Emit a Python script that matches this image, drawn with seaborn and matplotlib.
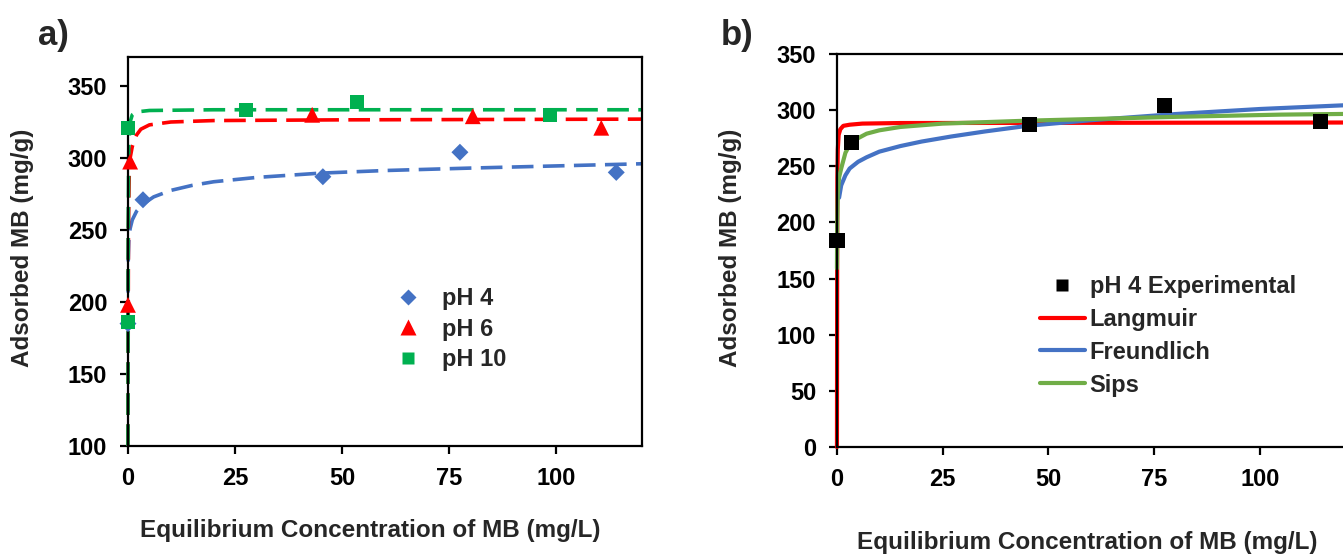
import matplotlib
matplotlib.use("Agg")
import matplotlib.pyplot as plt
import seaborn as sns
from matplotlib.lines import Line2D

# ---- data ----
# panel a: experimental points
ph4_x = [0, 3.5, 45.5, 77.5, 114]
ph4_y = [185, 271, 287, 304, 290]
ph6_x = [0, 0.5, 43, 80.5, 110.5]
ph6_y = [198, 297.5, 330, 329, 321]
ph10_x = [0, 0, 27.5, 53.5, 98.5]
ph10_y = [186, 321, 333.5, 339, 330]

# panel a: fitted curves (dashed)
fit4_x = [0, 0.05, 0.2, 0.5, 1, 2, 3.5, 6, 10, 15, 20, 30, 45, 60, 80, 100, 120]
fit4_y = [185, 228, 243, 251, 257, 263, 268, 273, 277.5, 281, 283.5, 286.5, 289.5, 291.3, 293, 294.5, 296]
fit6_x = [0, 0.1, 0.3, 0.5, 1, 2, 3, 5, 10, 20, 50, 120]
fit6_y = [100, 250, 290, 300, 308, 316, 320, 323, 325, 326, 326.5, 327]
fit10_x = [0, 0.05, 0.2, 0.5, 1, 2, 5, 20, 120]
fit10_y = [100, 250, 310, 325, 330, 332, 333, 333.5, 333.5]

# panel b: pH 4 experimental + isotherm models
exp_x = [0, 3.5, 45.5, 77.5, 114.3]
exp_y = [184, 271.5, 287.5, 304, 290]
lang_x = [0, 0.05, 0.1, 0.2, 0.4, 0.8, 1.5, 3, 6, 15, 130]
lang_y = [0, 160, 240, 265, 278, 283, 286, 287, 288, 288.5, 289]
freu_x = [0.5, 1, 2, 3, 5, 7, 10, 15, 20, 27, 35, 45, 60, 80, 100, 130]
freu_y = [222, 233, 242, 248, 254, 258, 263, 268, 272, 276.5, 281, 286, 291, 296.5, 301, 306]
sips_x = [0, 0.05, 0.2, 0.5, 1, 2, 3, 5, 7, 10, 15, 25, 45, 80, 105, 130]
sips_y = [159, 200, 226, 240, 248, 262, 269, 275, 279, 282, 285, 288, 290.6, 294, 296, 297]

xticks = [0, 25, 50, 75, 100]
yticks_a = [100, 150, 200, 250, 300, 350]
yticks_b = [0, 50, 100, 150, 200, 250, 300, 350]

BLUE = "#4472C4"
RED = "#FF0000"
GREEN_A = "#00B050"
GREEN_B = "#70AD47"

sns.set_style("ticks")
plt.rcParams['font.family'] = ['Liberation Sans', 'DejaVu Sans']
plt.rcParams['font.weight'] = 'bold'

fig = plt.figure(figsize=(13.43, 5.57), dpi=100)
ax1 = fig.add_axes([0.0953, 0.1993, 0.3827, 0.698])
ax2 = fig.add_axes([0.6232, 0.1975, 0.4095, 0.7056])

dash = (6, 2.6)

# ---- panel a ----
sns.lineplot(x=fit4_x, y=fit4_y, ax=ax1, color=BLUE, lw=2.6, sort=False, estimator=None)
sns.lineplot(x=fit6_x, y=fit6_y, ax=ax1, color=RED, lw=2.6, sort=False, estimator=None)
sns.lineplot(x=fit10_x, y=fit10_y, ax=ax1, color=GREEN_A, lw=2.6, sort=False, estimator=None)
for ln in ax1.get_lines():
    ln.set_dashes(dash)
    ln.set_clip_on(False)

sns.scatterplot(x=ph4_x, y=ph4_y, ax=ax1, marker="D", color=BLUE, s=75, edgecolor="none", clip_on=False, zorder=4)
sns.scatterplot(x=ph6_x, y=ph6_y, ax=ax1, marker="^", color=RED, s=130, edgecolor="none", clip_on=False, zorder=5)
sns.scatterplot(x=ph10_x, y=ph10_y, ax=ax1, marker="s", color=GREEN_A, s=95, edgecolor="none", clip_on=False, zorder=6)

ax1.set_xlim(0, 120)
ax1.set_ylim(100, 370)
ax1.set_xticks(xticks)
ax1.set_yticks(yticks_a)

h_a = [Line2D([], [], ls="none", marker="D", color=BLUE, ms=8.5, mec="none"),
       Line2D([], [], ls="none", marker="^", color=RED, ms=11, mec="none"),
       Line2D([], [], ls="none", marker="s", color=GREEN_A, ms=9, mec="none")]
ax1.legend(h_a, ["pH 4", "pH 6", "pH 10"], loc="upper left", bbox_to_anchor=(0.2949, 0.4847),
           bbox_transform=fig.transFigure, frameon=False, fontsize=17, handlelength=1.0,
           handletextpad=0.95, labelspacing=0.32, borderpad=0, borderaxespad=0)

# ---- panel b ----
sns.lineplot(x=lang_x, y=lang_y, ax=ax2, color=RED, lw=3.0, sort=False, estimator=None)
sns.lineplot(x=freu_x, y=freu_y, ax=ax2, color=BLUE, lw=3.0, sort=False, estimator=None)
sns.lineplot(x=sips_x, y=sips_y, ax=ax2, color=GREEN_B, lw=3.0, sort=False, estimator=None)
for ln in ax2.get_lines():
    ln.set_clip_on(False)
sns.scatterplot(x=exp_x, y=exp_y, ax=ax2, marker="s", color="black", s=120, edgecolor="none", clip_on=False, zorder=5)

ax2.set_xlim(0, 130)
ax2.set_ylim(0, 350)
ax2.set_xticks(xticks)
ax2.set_yticks(yticks_b)

h_b = [Line2D([], [], ls="none", marker="s", color="black", ms=8, mec="none"),
       Line2D([], [], color=RED, lw=3),
       Line2D([], [], color=BLUE, lw=3),
       Line2D([], [], color=GREEN_B, lw=3)]
ax2.legend(h_b, ["pH 4 Experimental", "Langmuir", "Freundlich", "Sips"], loc="upper left",
           bbox_to_anchor=(0.7744, 0.5065), bbox_transform=fig.transFigure, frameon=False,
           fontsize=17, handlelength=1.9, handletextpad=0.2, labelspacing=0.42, borderpad=0,
           borderaxespad=0)

for ax in (ax1, ax2):
    for sp in ax.spines.values():
        sp.set_linewidth(1.6)
        sp.set_color("black")
    ax.tick_params(axis="both", direction="out", length=6, width=1.6, labelsize=17, pad=9,
                   color="black", labelcolor="black")
    ax.set_xlabel("")
    ax.set_ylabel("")
    for lab in ax.get_xticklabels() + ax.get_yticklabels():
        lab.set_fontweight("bold")

fig.text(370 / 1343, 1 - 530 / 557, "Equilibrium Concentration of MB (mg/L)", ha="center", va="center",
         fontsize=17.5, fontweight="bold")
fig.text(1087 / 1343, 1 - 543 / 557, "Equilibrium Concentration of MB (mg/L)", ha="center", va="center",
         fontsize=17.5, fontweight="bold")
fig.text(23 / 1343, 1 - 248 / 557, "Adsorbed MB (mg/g)", rotation=90, ha="center", va="center",
         fontsize=17.5, fontweight="bold")
fig.text(731 / 1343, 1 - 248 / 557, "Adsorbed MB (mg/g)", rotation=90, ha="center", va="center",
         fontsize=17.5, fontweight="bold")
fig.text(53 / 1343, 1 - 35 / 557, "a)", ha="center", va="center", fontsize=25, fontweight="bold")
fig.text(737 / 1343, 1 - 35 / 557, "b)", ha="center", va="center", fontsize=25, fontweight="bold")

fig.savefig("out.png", dpi=100, facecolor="white")
